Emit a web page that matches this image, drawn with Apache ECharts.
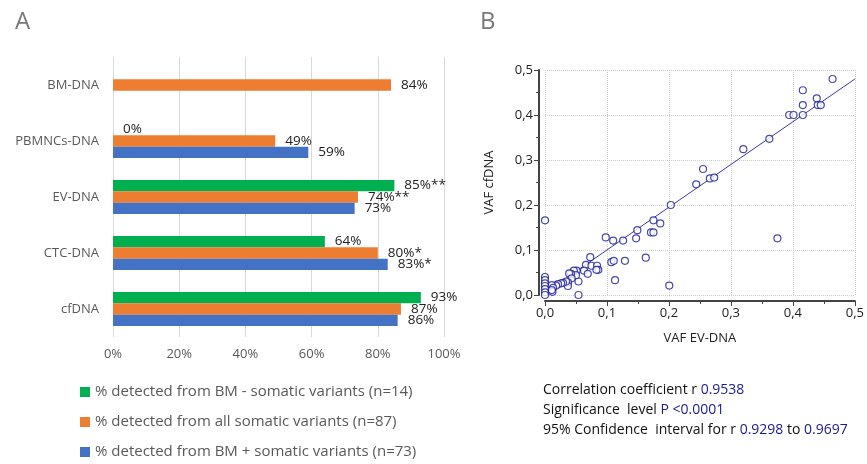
<!DOCTYPE html>
<html>
<head>
<meta charset="utf-8">
<script src="https://cdn.jsdelivr.net/npm/echarts@6/dist/echarts.min.js"></script>
<style>html,body{margin:0;padding:0;background:#fff}#c{width:867px;height:464px}</style>
</head>
<body>
<div id="c"></div>
<script>
// Panel A data (categories listed bottom to top)
const categories = ['cfDNA', 'CTC-DNA', 'EV-DNA', 'PBMNCs-DNA', 'BM-DNA'];
const seriesNames = [
  '% detected from BM - somatic variants (n=14)',
  '% detected from all somatic variants (n=87)',
  '% detected from BM + somatic variants (n=73)'
];
const greenValues = [93, 64, 85, 0, null];
const orangeValues = [87, 80, 74, 49, 84];
const blueValues = [86, 83, 73, 59, null];
const greenLabels = ['93%', '64%', '85%**', '0%', ''];
const orangeLabels = ['87%', '80%*', '74%**', '49%', '84%'];
const blueLabels = ['86%', '83%*', '73%', '59%', ''];
const xTicks = ['0%', '20%', '40%', '60%', '80%', '100%'];

// Panel B data
const vafEV = [0.464,0.416,0.4385,0.416,0.44,0.445,0.394,0.401,0.416,0.362,0.32,0.255,0.244,0.266,0.273,0.203,0.375,0.175,0.186,0.149,0.171,0.175,0.147,0.098,0.11,0.126,0.1626,0.0,0.073,0.066,0.075,0.084,0.086,0.083,0.063,0.069,0.107,0.111,0.129,0.113,0.2005,0.054,0.054,0.051,0.0465,0.05,0.042,0.039,0.043,0.037,0.037,0.034,0.029,0.026,0.021,0.018,0.011,0.013,0.012,0.011,0.0,0.0,0.0,0.0,0.0,0.0,0.0];
const vafCf = [0.48,0.455,0.437,0.422,0.422,0.422,0.40,0.40,0.40,0.347,0.324,0.28,0.246,0.259,0.261,0.20,0.126,0.166,0.159,0.144,0.139,0.139,0.126,0.128,0.121,0.121,0.083,0.166,0.084,0.067,0.065,0.065,0.056,0.056,0.054,0.047,0.073,0.076,0.076,0.033,0.021,0.0,0.03,0.054,0.054,0.044,0.047,0.048,0.037,0.028,0.02,0.03,0.027,0.026,0.024,0.021,0.022,0.016,0.007,0.011,0.04,0.033,0.026,0.02,0.013,0.006,0.0];
const regressionLine = [[0.005, 0.0098], [0.5, 0.48]];
const bTicks = [0, 0.1, 0.2, 0.3, 0.4, 0.5];

const colors = ['#00B050', '#ED7D31', '#4472C4'];
const chart = echarts.init(document.getElementById('c'));

function barSeries(i, values, labels) {
  return {
    name: seriesNames[i], type: 'bar', xAxisIndex: 0, yAxisIndex: 0,
    data: values, itemStyle: { color: colors[i] },
    barGap: '0%', barCategoryGap: '39%',
    label: {
      show: true, position: 'right', distance: 10,
      color: '#222', fontSize: 13.5, fontFamily: 'Open Sans',
      formatter: p => labels[p.dataIndex]
    }
  };
}

const statText = {
  type: 'text', left: 543, top: 383,
  style: {
    text: '{a|Correlation coefficient r }{b|0.9538}\n{a|Significance  level }{b|P <0.0001}\n{a|95% Confidence  interval for r }{b|0.9298}{a| to }{b|0.9697}',
    rich: {
      a: { fontSize: 14, fontFamily: 'Open Sans', fill: '#111', lineHeight: 20 },
      b: { fontSize: 14, fontFamily: 'Open Sans', fill: '#1a1a8c', lineHeight: 20 }
    }
  }
};

chart.setOption({
  animation: false,
  textStyle: { fontFamily: 'Open Sans' },
  grid: [
    { left: 113, right: 423, top: 57, bottom: 127 },
    { left: 545, right: 10, top: 70, bottom: 169 }
  ],
  legend: {
    orient: 'vertical', left: 80, top: 384, height: 100, itemGap: 14,
    itemWidth: 10, itemHeight: 10, icon: 'rect', padding: 0,
    textStyle: { color: '#595959', fontSize: 15, lineHeight: 16, fontFamily: 'Open Sans' },
    data: seriesNames
  },
  graphic: [
    { type: 'text', left: 15, top: 10, style: { text: 'A', fontSize: 24, fill: '#777', fontFamily: 'Open Sans' } },
    { type: 'text', left: 480, top: 10, style: { text: 'B', fontSize: 24, fill: '#777', fontFamily: 'Open Sans' } },
    statText
  ],
  xAxis: [
    {
      gridIndex: 0, type: 'value', min: 0, max: 100, interval: 20,
      axisLine: { show: false }, axisTick: { show: false },
      splitLine: { show: true, lineStyle: { color: '#d9d9d9', width: 1 } },
      axisLabel: { color: '#595959', fontSize: 13, margin: 11, formatter: v => xTicks[v / 20] }
    },
    {
      gridIndex: 1, type: 'value', min: 0, max: 0.5, interval: 0.1, offset: 6,
      name: 'VAF EV-DNA', nameLocation: 'middle', nameGap: 31,
      nameTextStyle: { color: '#222', fontSize: 13 },
      axisLine: { show: true, onZero: false, lineStyle: { color: '#444', width: 2 } },
      axisTick: { show: true, inside: false, length: 5, lineStyle: { color: '#444' } },
      minorTick: { show: true, splitNumber: 2, length: 3, lineStyle: { color: '#444' } },
      splitLine: { show: true, lineStyle: { color: '#ccc', type: 'dotted', width: 1 } },
      axisLabel: { color: '#222', fontSize: 13, margin: 6, formatter: v => bTicks[Math.round(v * 10)].toFixed(1).replace('.', ',') }
    }
  ],
  yAxis: [
    {
      gridIndex: 0, type: 'category', data: categories,
      axisLine: { show: false }, axisTick: { show: false },
      axisLabel: { color: '#595959', fontSize: 13, margin: 14 }
    },
    {
      gridIndex: 1, type: 'value', min: 0, max: 0.5, interval: 0.1, offset: 6,
      name: 'VAF cfDNA', nameLocation: 'middle', nameGap: 43,
      nameTextStyle: { color: '#222', fontSize: 13 },
      axisLine: { show: true, onZero: false, lineStyle: { color: '#444', width: 2 } },
      axisTick: { show: true, inside: false, length: 5, lineStyle: { color: '#444' } },
      minorTick: { show: true, splitNumber: 2, length: 3, lineStyle: { color: '#444' } },
      splitLine: { show: true, lineStyle: { color: '#ccc', type: 'dotted', width: 1 } },
      axisLabel: { color: '#222', fontSize: 13, margin: 6, formatter: v => bTicks[Math.round(v * 10)].toFixed(1).replace('.', ',') }
    }
  ],
  series: [
    barSeries(0, greenValues, greenLabels),
    barSeries(1, orangeValues, orangeLabels),
    barSeries(2, blueValues, blueLabels),
    {
      type: 'scatter', xAxisIndex: 1, yAxisIndex: 1, clip: false,
      symbol: 'circle', symbolSize: 7,
      itemStyle: { color: '#fff', borderColor: '#1c1c96', borderWidth: 1.2 },
      data: vafEV.map((x, i) => [x, vafCf[i]]), z: 3
    },
    {
      type: 'line', xAxisIndex: 1, yAxisIndex: 1, showSymbol: false, symbol: 'none',
      lineStyle: { color: '#3a3aa0', width: 1 }, data: regressionLine, z: 2
    }
  ]
});
</script>
</body>
</html>
